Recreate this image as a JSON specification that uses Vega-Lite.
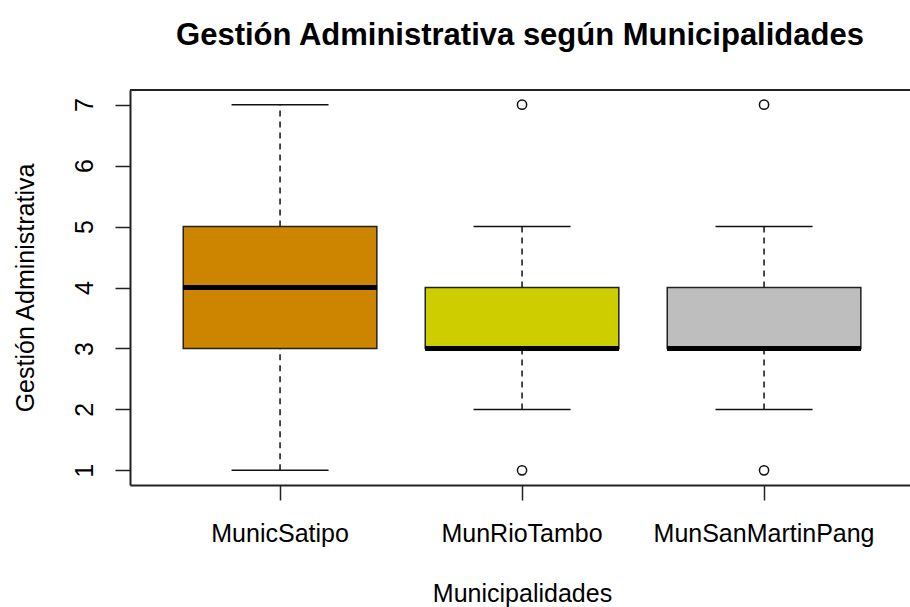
{
  "$schema": "https://vega.github.io/schema/vega-lite/v6.json",
  "width": 780,
  "height": 395,
  "autosize": {"type": "none"},
  "padding": {"left": 130, "top": 90, "right": 0, "bottom": 122},
  "background": "white",
  "config": {
    "view": {"stroke": null},
    "font": "Liberation Sans"
  },
  "title": {
    "text": "Gestión Administrativa según Municipalidades",
    "fontSize": 31,
    "fontWeight": "bold",
    "font": "Liberation Sans",
    "color": "#000",
    "anchor": "middle",
    "baseline": "alphabetic",
    "offset": 13
  },
  "datasets": {
    "stats": [
      {"municipalidad": "MunicSatipo", "min": 1, "q1": 3, "mediana": 4, "q3": 5, "max": 7},
      {"municipalidad": "MunRioTambo", "min": 2, "q1": 3, "mediana": 3, "q3": 4, "max": 5},
      {"municipalidad": "MunSanMartinPang", "min": 2, "q1": 3, "mediana": 3, "q3": 4, "max": 5}
    ],
    "outliers": [
      {"municipalidad": "MunRioTambo", "valor": 7},
      {"municipalidad": "MunRioTambo", "valor": 1},
      {"municipalidad": "MunSanMartinPang", "valor": 7},
      {"municipalidad": "MunSanMartinPang", "valor": 1}
    ]
  },
  "layer": [
    {
      "data": {"name": "stats"},
      "mark": {"type": "rule", "strokeDash": [6, 5], "strokeWidth": 1.5, "color": "#111"},
      "encoding": {
        "x": {
          "field": "municipalidad", "type": "nominal",
          "sort": ["MunicSatipo", "MunRioTambo", "MunSanMartinPang"],
          "scale": {"paddingInner": 0.2, "paddingOuter": 0.2116, "align": 0.52},
          "axis": {
            "title": "Municipalidades",
            "titleFontSize": 25,
            "titleFontWeight": "normal",
            "titleColor": "#000",
            "titleBaseline": "alphabetic",
            "titleY": 116,
            "titleX": 392,
            "titleAlign": "center",
            "labelAngle": 0,
            "labelFontSize": 25,
            "labelColor": "#000",
            "labelBaseline": "alphabetic",
            "labelPadding": 41,
            "labelLimit": 0,
            "labelOverlap": false,
            "tickSize": 15,
            "tickColor": "#222",
            "tickWidth": 1.5,
            "domain": true,
            "domainColor": "#222",
            "domainWidth": 2,
            "grid": false
          }
        },
        "y": {
          "field": "min", "type": "quantitative",
          "scale": {"domain": [0.76, 7.24], "nice": false, "zero": false},
          "axis": {
            "title": "Gestión Administrativa",
            "titleFontSize": 25,
            "titleFontWeight": "normal",
            "titleColor": "#000",
            "titleAngle": 270,
            "titleAlign": "center",
            "titleBaseline": "alphabetic",
            "titleX": -97,
            "titleY": 197.5,
            "values": [1, 2, 3, 4, 5, 6, 7],
            "format": "d",
            "labelAngle": 270,
            "labelAlign": "center",
            "labelBaseline": "alphabetic",
            "labelFontSize": 25,
            "labelColor": "#000",
            "labelPadding": 23,
            "tickSize": 15,
            "tickColor": "#222",
            "tickWidth": 1.5,
            "domain": true,
            "domainColor": "#222",
            "domainWidth": 2,
            "grid": false
          }
        },
        "y2": {"field": "q1"}
      }
    },
    {
      "data": {"name": "stats"},
      "mark": {"type": "rule", "strokeDash": [6, 5], "strokeWidth": 1.5, "color": "#111"},
      "encoding": {
        "x": {"field": "municipalidad", "type": "nominal", "sort": ["MunicSatipo", "MunRioTambo", "MunSanMartinPang"]},
        "y": {"field": "q3", "type": "quantitative"},
        "y2": {"field": "max"}
      }
    },
    {
      "data": {"name": "stats"},
      "mark": {"type": "bar", "stroke": "#222", "strokeWidth": 1.5, "opacity": 1},
      "encoding": {
        "x": {"field": "municipalidad", "type": "nominal", "sort": ["MunicSatipo", "MunRioTambo", "MunSanMartinPang"]},
        "y": {"field": "q1", "type": "quantitative"},
        "y2": {"field": "q3"},
        "color": {
          "field": "municipalidad", "type": "nominal",
          "scale": {"domain": ["MunicSatipo", "MunRioTambo", "MunSanMartinPang"], "range": ["#CD8500", "#CDCD00", "#BEBEBE"]},
          "legend": null
        }
      }
    },
    {
      "data": {"name": "stats"},
      "mark": {"type": "tick", "size": 97, "thickness": 1.5, "color": "#111", "opacity": 1},
      "encoding": {
        "x": {"field": "municipalidad", "type": "nominal", "sort": ["MunicSatipo", "MunRioTambo", "MunSanMartinPang"]},
        "y": {"field": "min", "type": "quantitative"}
      }
    },
    {
      "data": {"name": "stats"},
      "mark": {"type": "tick", "size": 97, "thickness": 1.5, "color": "#111", "opacity": 1},
      "encoding": {
        "x": {"field": "municipalidad", "type": "nominal", "sort": ["MunicSatipo", "MunRioTambo", "MunSanMartinPang"]},
        "y": {"field": "max", "type": "quantitative"}
      }
    },
    {
      "data": {"name": "stats"},
      "mark": {"type": "tick", "size": 194, "thickness": 5, "color": "#000", "opacity": 1},
      "encoding": {
        "x": {"field": "municipalidad", "type": "nominal", "sort": ["MunicSatipo", "MunRioTambo", "MunSanMartinPang"]},
        "y": {"field": "mediana", "type": "quantitative"}
      }
    },
    {
      "data": {"name": "outliers"},
      "mark": {"type": "point", "shape": "circle", "filled": false, "size": 85, "stroke": "#111", "strokeWidth": 1.5, "opacity": 1},
      "encoding": {
        "x": {"field": "municipalidad", "type": "nominal", "sort": ["MunicSatipo", "MunRioTambo", "MunSanMartinPang"]},
        "y": {"field": "valor", "type": "quantitative"}
      }
    },
    {
      "data": {"values": [{"borde": 7.24}]},
      "mark": {"type": "rule", "strokeWidth": 2, "color": "#222"},
      "encoding": {
        "y": {"field": "borde", "type": "quantitative"}
      }
    }
  ]
}
